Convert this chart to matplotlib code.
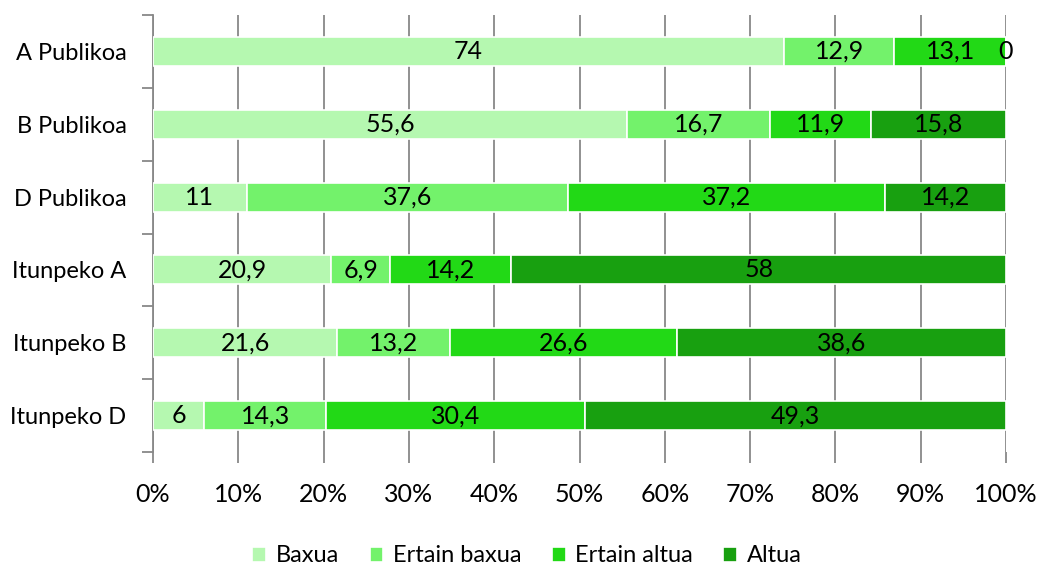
import matplotlib
matplotlib.use("Agg")
import matplotlib.pyplot as plt
import numpy as np
from matplotlib.ticker import FixedLocator, PercentFormatter

categories = ["A Publikoa", "B Publikoa", "D Publikoa", "Itunpeko A", "Itunpeko B", "Itunpeko D"]
series_names = ["Baxua", "Ertain baxua", "Ertain altua", "Altua"]
baxua = [74, 55.6, 11, 20.9, 21.6, 6]
ertain_baxua = [12.9, 16.7, 37.6, 6.9, 13.2, 14.3]
ertain_altua = [13.1, 11.9, 37.2, 14.2, 26.6, 30.4]
altua = [0, 15.8, 14.2, 58, 38.6, 49.3]
xticks = [0, 10, 20, 30, 40, 50, 60, 70, 80, 90, 100]
colors = ["#B5F8B0", "#73F26B", "#22D916", "#18A010"]

plt.rcParams['font.family'] = ['Lato', 'DejaVu Sans']
FS = 18

fig = plt.figure(figsize=(10.38, 5.71), dpi=100)
ax = fig.add_axes([153/1038, 1-452/571, (1006-153)/1038, (452-15)/571])

data = [baxua, ertain_baxua, ertain_altua, altua]
y = np.arange(len(categories))
left = np.zeros(len(categories))
for name, vals, c in zip(series_names, data, colors):
    vals = np.array(vals, dtype=float)
    ax.barh(y, vals, left=left, height=0.4, color=c, edgecolor="white",
            linewidth=1.2, label=name, zorder=3)
    for yi, l, v in zip(y, left, vals):
        if v == int(v):
            txt = str(int(v))
        else:
            txt = str(v)
        txt = txt.replace('.', ',')
        ax.text(l + v/2, yi, txt, ha="center", va="center", fontsize=FS,
                color="black", zorder=4)
    left += vals

ax.set_xlim(0, 100)
ax.set_ylim(len(categories) - 0.5, -0.5)
ax.set_xticks(xticks)
ax.xaxis.set_major_formatter(PercentFormatter(decimals=0))
ax.set_yticks(y)
ax.set_yticklabels(categories)
ax.yaxis.set_minor_locator(FixedLocator(np.arange(-0.5, len(categories), 1)))
ax.tick_params(axis="y", which="major", length=0, pad=19, labelsize=17)
ax.tick_params(axis="y", which="minor", length=8, color="#888888", width=1.3)
ax.tick_params(axis="x", length=8, color="#888888", width=1.3, labelsize=FS, pad=14)
ax.grid(axis="x", color="#888888", linewidth=1.3, zorder=0)
for s in ["top", "right", "bottom"]:
    ax.spines[s].set_visible(False)
ax.spines["left"].set_color("#888888")
ax.spines["left"].set_linewidth(1.3)

leg = ax.legend(loc="center", bbox_to_anchor=((527-153)/853, -104/437), ncol=4, frameon=False,
                handlelength=0.58, handleheight=0.58, handletextpad=0.4, columnspacing=1.3,
                borderpad=0.2, prop={'size': 17})

fig.savefig("out.png", dpi=100)
